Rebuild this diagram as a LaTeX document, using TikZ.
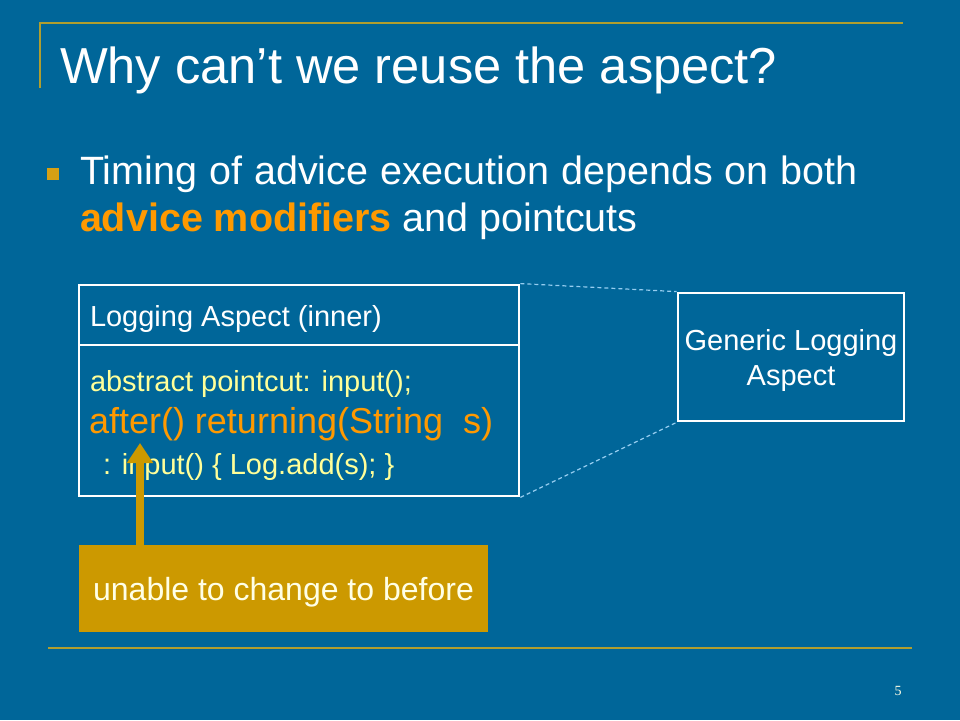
\documentclass[tikz,border=0pt]{standalone}
\usepackage{fontspec}
\setmainfont{Liberation Sans}
\newfontfamily\pgnumfont{Liberation Serif}
\usetikzlibrary{arrows.meta}
\definecolor{bg}{RGB}{0,102,153}
\definecolor{rulegold}{RGB}{176,158,46}
\definecolor{boxgold}{RGB}{204,153,0}
\definecolor{bulletgold}{RGB}{214,160,20}
\definecolor{codeyellow}{RGB}{255,255,153}
\definecolor{hiorange}{RGB}{255,153,0}
\definecolor{dashblue}{RGB}{150,205,240}
\definecolor{cream}{RGB}{255,255,230}
\tikzset{
  txt/.style={anchor=base west, inner sep=0pt, outer sep=0pt},
  ctxt/.style={anchor=base, inner sep=0pt, outer sep=0pt},
  wbox/.style={draw=white, line width=2.8pt, inner sep=0pt},
  dashlink/.style={draw=dashblue, line width=1.2pt, dash pattern=on 4pt off 3pt},
  goldrule/.style={draw=rulegold, line width=2.2pt},
}
\begin{document}
\begin{tikzpicture}[x=1pt,y=-1pt]
\fill[bg] (0,0) rectangle (960,720);
\useasboundingbox (0,0) rectangle (960,720);
% title rules
\coordinate (tl) at (40,23);
\coordinate (tr) at (903,23);
\coordinate (tb) at (40,88);
\draw[goldrule] (tb) -- (tl) -- (tr);
\coordinate (bl) at (48,648);
\coordinate (br) at (912,648);
\draw[goldrule, line width=2.6pt] (bl) -- (br);
% title
\node[txt, text=white, font=\fontsize{50.6}{60}\selectfont] (title) at (60,83) {Why can’t we reuse the aspect?};
% bullet
\node[fill=bulletgold, minimum size=12pt, inner sep=0pt] (bullet) at (53,174) {};
\node[txt, text=white, font=\fontsize{39.5}{47}\selectfont] (l1) at (80,184) {\makebox[778pt][s]{Timing of advice execution depends on both}};
\node[txt, text=white, font=\fontsize{39.5}{47}\selectfont] (l2) at (80,231) {\textcolor{hiorange}{\bfseries advice modifiers} and pointcuts};
% boxes
\node[wbox, minimum width=440pt, minimum height=60pt] (hdr) at (299,315) {};
\node[wbox, minimum width=440pt, minimum height=151pt] (body) at (299,420.5) {};
\node[txt, text=white, font=\fontsize{29}{35}\selectfont] (hdrtxt) at (90,326) {Logging Aspect (inner)};
\node[txt, text=codeyellow, font=\fontsize{29}{35}\selectfont] (c1) at (90,391) {abstract pointcut: input();};
\node[txt, text=hiorange, font=\fontsize{36}{44}\selectfont] (c2) at (89,433) {after() returning(String\ \ s)};
\node[txt, text=codeyellow, font=\fontsize{29}{35}\selectfont] (c3) at (95,474) {\ : input() \{ Log.add(s); \}};
% generic aspect
\node[wbox, minimum width=226pt, minimum height=128pt] (gen) at (791,357) {};
\node[ctxt, text=white, font=\fontsize{29}{35}\selectfont] (gen1) at (791,350) {Generic Logging};
\node[ctxt, text=white, font=\fontsize{29}{35}\selectfont] (gen2) at (791,385) {Aspect};
\draw[dashlink] (hdr.north east) -- (gen.north west);
\draw[dashlink] (body.south east) -- (gen.south west);
% callout
\node[fill=boxgold, minimum width=409pt, minimum height=87pt, inner sep=0pt] (call) at (283.5,588.5) {};
\node[ctxt, text=cream, font=\fontsize{32}{38}\selectfont] (calltxt) at (283.5,600) {unable to change to before};
\coordinate (tip) at (140,443);
\draw[draw=boxgold, fill=boxgold, line width=8pt, -{Triangle[width=25pt,length=20pt]}] (call.north -| tip) -- (tip);
% page number
\node[anchor=base, inner sep=0pt, text=cream, font=\pgnumfont\fontsize{14}{16}\selectfont] (pg) at (898,695) {5};
\end{tikzpicture}
\end{document}
